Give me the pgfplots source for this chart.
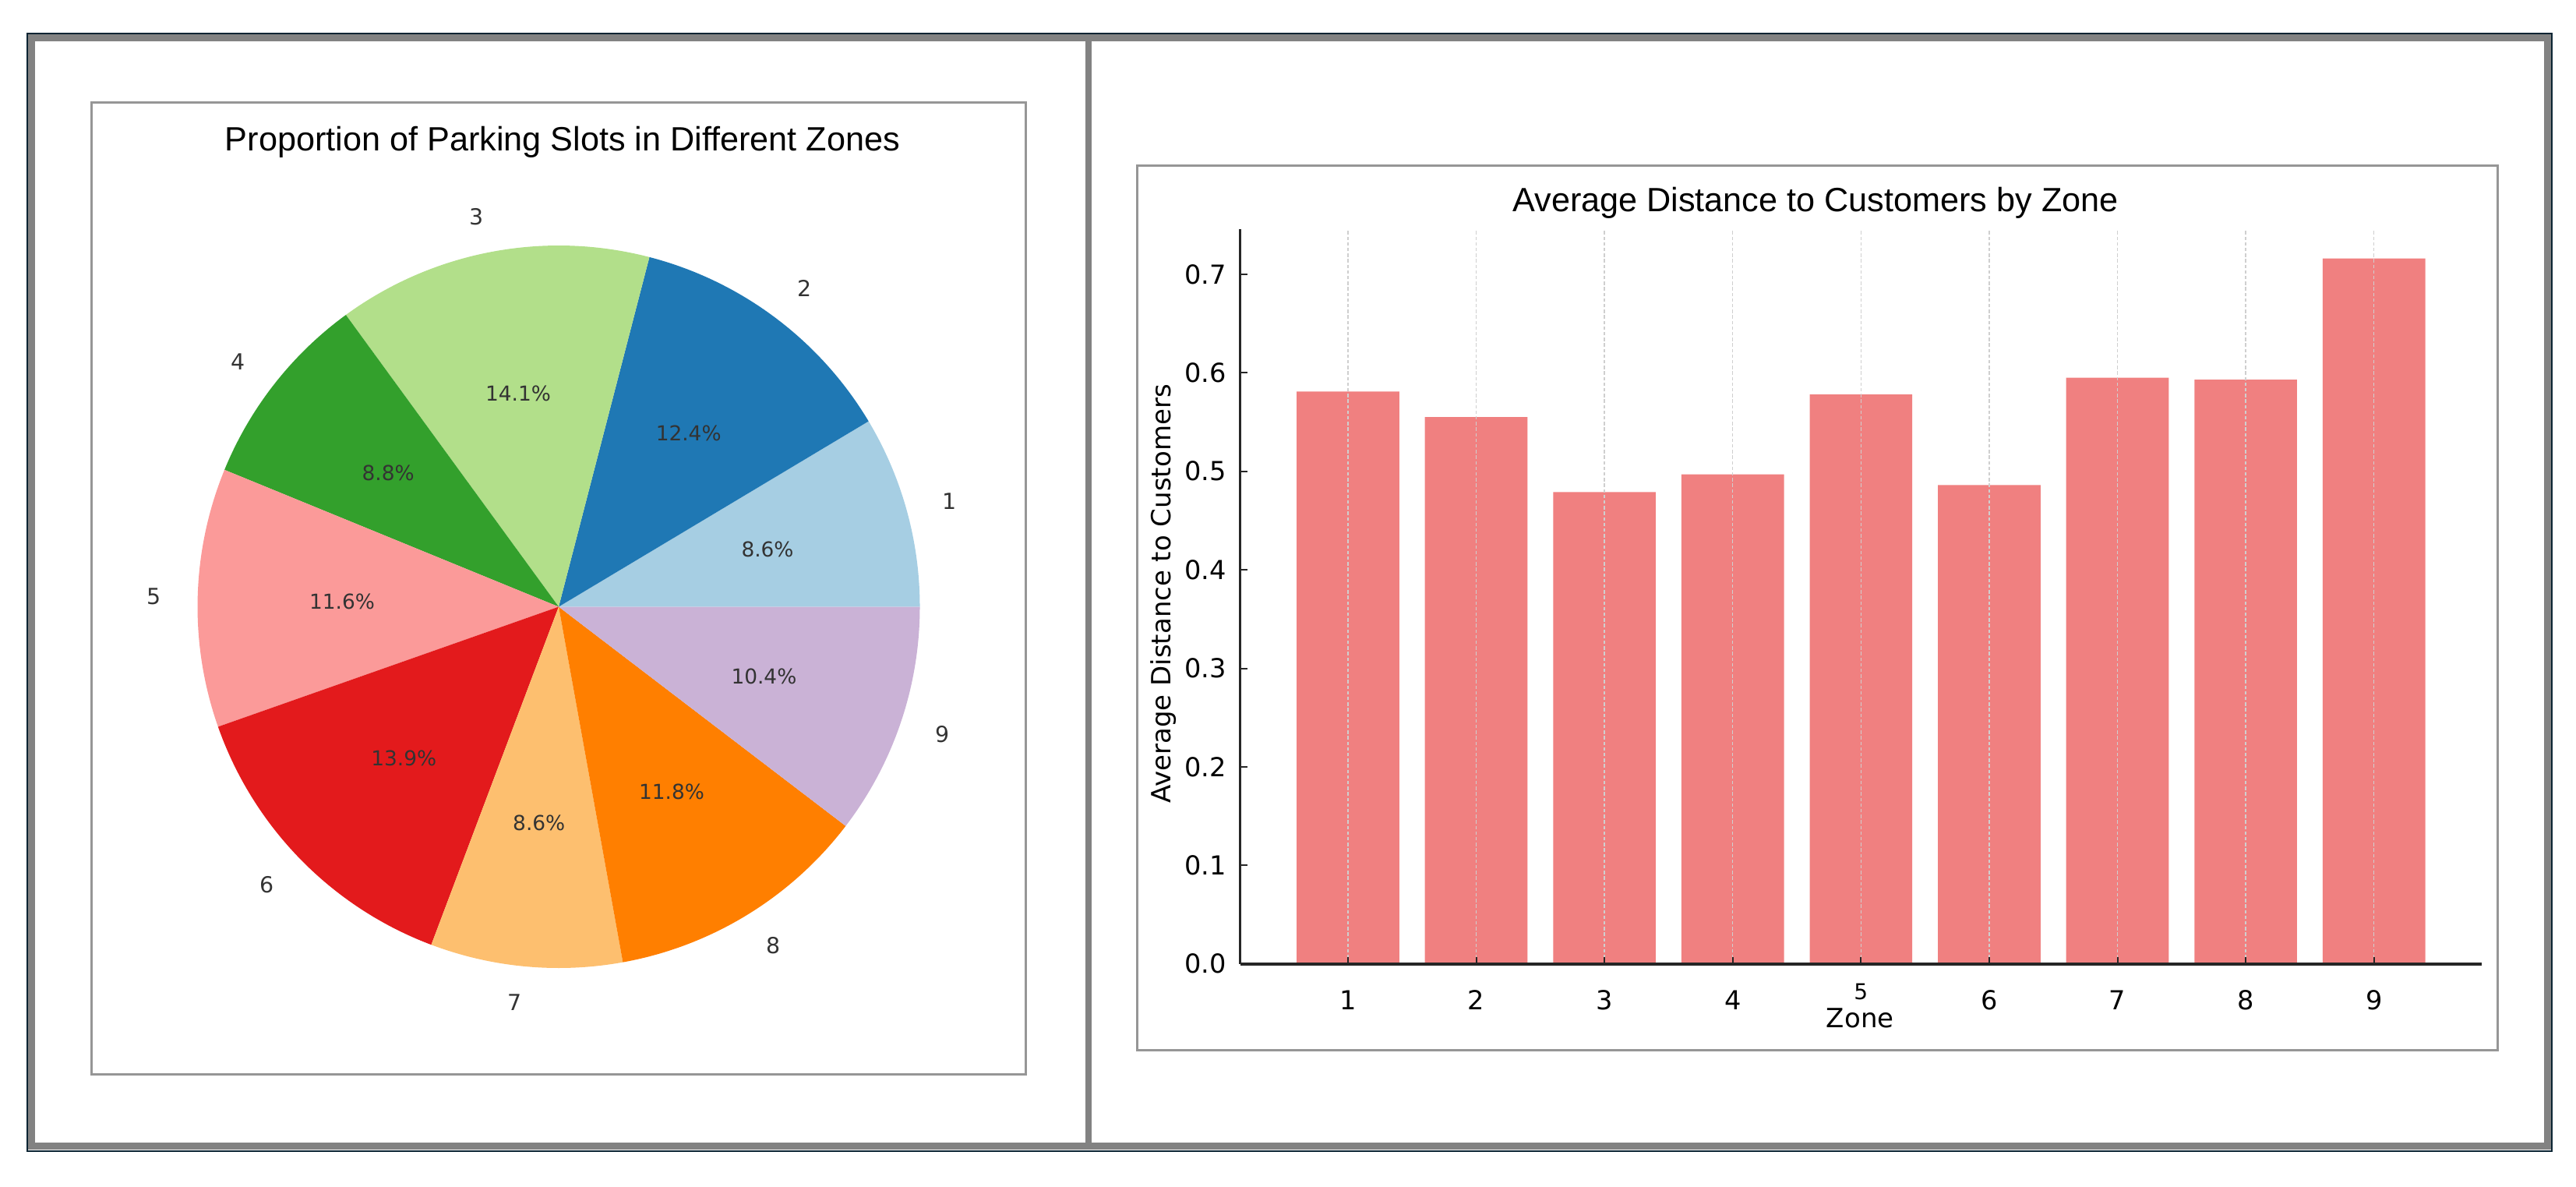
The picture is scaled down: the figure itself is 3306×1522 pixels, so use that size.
\documentclass[border=0pt]{standalone}
\usepackage{fontspec}
\setmainfont{DejaVu Sans}
\newfontfamily\titlefont{Liberation Sans}
\usepackage{pgfplots}
\usepackage{pgfplotstable}
\pgfplotsset{compat=1.18}

\definecolor{navy}{HTML}{0B2433}
\definecolor{framegray}{HTML}{828282}
\definecolor{boxgray}{HTML}{969696}
\definecolor{lightcoral}{HTML}{F08080}
\definecolor{gridgray}{HTML}{CFCFCF}
% Paired colormap
\definecolor{pie1}{HTML}{A6CEE3}
\definecolor{pie2}{HTML}{1F78B4}
\definecolor{pie3}{HTML}{B2DF8A}
\definecolor{pie4}{HTML}{33A02C}
\definecolor{pie5}{HTML}{FB9A99}
\definecolor{pie6}{HTML}{E31A1C}
\definecolor{pie7}{HTML}{FDBF6F}
\definecolor{pie8}{HTML}{FF7F00}
\definecolor{pie9}{HTML}{CAB2D6}

% share of parking slots per zone (percent)
\pgfplotstableread{
zone pct
1 8.6
2 12.4
3 14.1
4 8.8
5 11.6
6 13.9
7 8.6
8 11.8
9 10.4
}\piedata

% average distance to customers per zone
\pgfplotstableread{
zone dist
1 0.581
2 0.555
3 0.479
4 0.497
5 0.578
6 0.486
7 0.595
8 0.593
9 0.716
}\distdata

\def\pieR{115.875pt}

\begin{document}
\begin{tikzpicture}[x=0.25pt,y=-0.25pt]
\useasboundingbox (0,0) rectangle (3306,1522);

% outer frame and divider
\draw[navy, line width=0.6pt] (35.2,43.2) rectangle (3274.8,1476.8);
\draw[framegray, line width=2.25pt] (40.5,48.7) rectangle (3269,1470.7);
\draw[framegray, line width=2pt] (1397,48) -- (1397,1470);

% subplot boxes
\draw[boxgray, line width=0.75pt] (117.7,131.7) rectangle (1316.7,1378);
\draw[boxgray, line width=0.75pt] (1459.5,212.7) rectangle (3205.3,1347.3);

\coordinate (piec) at (717,778.5);
\coordinate (barorigin) at (1591.7,1236.7);

% ---------- pie ----------
\begin{axis}[
  at={(piec)}, anchor=center,
  hide axis, clip=false,
  x=\pieR, y=\pieR,
  xmin=-1.25, xmax=1.25, ymin=-1.25, ymax=1.25,
]
\pgfplotsextra{%
  \pgfplotstablegetrowsof{\piedata}%
  \pgfmathtruncatemacro\lastrow{\pgfplotsretval-1}%
  \xdef\total{0}%
  \foreach \i in {0,...,\lastrow}{%
    \pgfplotstablegetelem{\i}{pct}\of\piedata
    \pgfmathsetmacro\t{\total+\pgfplotsretval}%
    \xdef\total{\t}%
  }%
  \xdef\cumstart{0}%
  \foreach \i in {0,...,\lastrow}{%
    \pgfplotstablegetelem{\i}{zone}\of\piedata \edef\z{\pgfplotsretval}%
    \pgfplotstablegetelem{\i}{pct}\of\piedata \edef\p{\pgfplotsretval}%
    \pgfmathsetmacro\astart{\cumstart/\total*360}%
    \pgfmathsetmacro\newcum{\cumstart+\p}%
    \pgfmathsetmacro\aend{\newcum/\total*360}%
    \pgfmathsetmacro\amid{(\astart+\aend)/2}%
    \xdef\cumstart{\newcum}%
    \fill[pie\z] (axis cs:0,0) -- ++(\astart:\pieR)
      arc[start angle=\astart, end angle=\aend, radius=\pieR] -- cycle;
    \path (axis cs:0,0) ++(\amid:0.6*\pieR)
      node[inner sep=0pt, text=black!80, font=\fontsize{6.6}{7.5}\selectfont] {\p\%};
    \pgfmathtruncatemacro\pos{cos(\amid)>0}%
    \ifnum\pos=1 \def\anc{west}\else\def\anc{east}\fi
    \path (axis cs:0,0) ++(\amid:1.1*\pieR)
      node[anchor=\anc, inner sep=0pt, text=black!80, font=\fontsize{7.1}{8}\selectfont] {\z};
  }%
}
\end{axis}

% ---------- bars ----------
\begin{axis}[
  at={(barorigin)}, anchor=south west,
  scale only axis, width=398.3pt, height=235.6pt,
  xmin=0.16, xmax=9.84, ymin=0, ymax=0.7456,
  axis x line*=bottom, axis y line*=left,
  axis line style={-},
  x axis line style={line width=0.9pt, black!85},
  y axis line style={line width=0.7pt, black!85},
  axis on top,
  tick align=inside,
  major tick length=2.25pt,
  tick style={line width=0.5pt, black!85},
  xtick={1,...,9},
  xticklabels={1,2,3,4,{\raisebox{3.27pt}[6.12pt][0pt]{\fontsize{7}{8}\selectfont 5}},6,7,8,9},
  ytick={0,0.1,...,0.7},
  /pgf/number format/assume math mode=true,
  ticklabel style={font=\fontsize{8.4}{10}\selectfont},
  xticklabel style={yshift=-5pt},
  yticklabel style={/pgf/number format/fixed, /pgf/number format/fixed zerofill,
    /pgf/number format/precision=1, xshift=-0.9pt},
  xmajorgrids, ymajorgrids=false,
  major grid style={gridgray, line width=0.35pt, dash pattern=on 1.1pt off 0.7pt},
  xlabel={Zone},
  xlabel style={at={(axis description cs:0.4993,-0.0597)}, anchor=north, inner sep=0pt,
    font=\fontsize{8.5}{10}\selectfont},
  ylabel={Average Distance to Customers},
  ylabel style={at={(axis description cs:-0.0616,0.5037)}, anchor=center, inner sep=0pt,
    font=\fontsize{8.5}{10}\selectfont},
]
\addplot[ybar, bar width=0.8, fill=lightcoral, draw=none] table[x=zone, y=dist] {\distdata};
\end{axis}

% titles
\node[anchor=base, inner sep=0pt, font=\titlefont\fontsize{10.8}{13}\selectfont] at (722,193)
  {Proportion of Parking Slots in Different Zones};
\node[anchor=base, inner sep=0pt, font=\titlefont\fontsize{10.8}{13}\selectfont] at (2330,271.5)
  {Average Distance to Customers by Zone};
\end{tikzpicture}
\end{document}
